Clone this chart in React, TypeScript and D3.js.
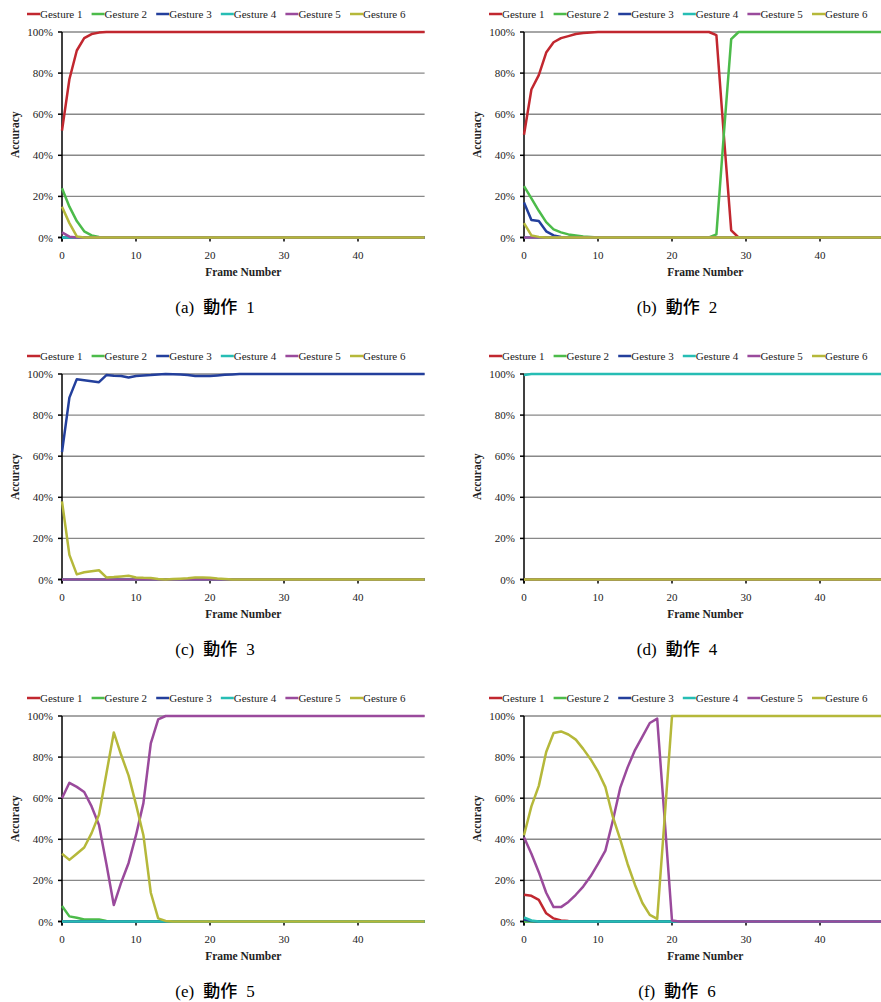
import React from "react";
import * as d3 from "d3";

// legend names + colours
const gestureNames = ["Gesture 1", "Gesture 2", "Gesture 3", "Gesture 4", "Gesture 5", "Gesture 6"];
const gestureColors = ["#c1272f", "#4cbb4a", "#233f9c", "#26bdb4", "#9a4a9c", "#b5b83a"];

const yTicks = [0, 20, 40, 60, 80, 100];
const xTicks = [0, 10, 20, 30, 40];
const frameCount = 50; // frames 0..49

const zeros = [
	0, 0, 0, 0, 0, 0, 0, 0, 0, 0, 0, 0, 0, 0, 0, 0, 0, 0, 0, 0, 0, 0, 0, 0, 0,
	0, 0, 0, 0, 0, 0, 0, 0, 0, 0, 0, 0, 0, 0, 0, 0, 0, 0, 0, 0, 0, 0, 0, 0, 0,
];

// (a) 動作 1
const a_g1 = [
	52, 77, 91, 97, 99, 99.7, 100, 100, 100, 100, 100, 100, 100, 100, 100, 100, 100, 100, 100, 100, 100, 100, 100, 100, 100,
	100, 100, 100, 100, 100, 100, 100, 100, 100, 100, 100, 100, 100, 100, 100, 100, 100, 100, 100, 100, 100, 100, 100, 100, 100,
];
const a_g2 = [
	24, 15, 8, 3, 1, 0.3, 0, 0, 0, 0, 0, 0, 0, 0, 0, 0, 0, 0, 0, 0, 0, 0, 0, 0, 0,
	0, 0, 0, 0, 0, 0, 0, 0, 0, 0, 0, 0, 0, 0, 0, 0, 0, 0, 0, 0, 0, 0, 0, 0, 0,
];
const a_g5 = [
	2.5, 0.4, 0, 0, 0, 0, 0, 0, 0, 0, 0, 0, 0, 0, 0, 0, 0, 0, 0, 0, 0, 0, 0, 0, 0,
	0, 0, 0, 0, 0, 0, 0, 0, 0, 0, 0, 0, 0, 0, 0, 0, 0, 0, 0, 0, 0, 0, 0, 0, 0,
];
const a_g6 = [
	15, 7, 0.5, 0, 0, 0, 0, 0, 0, 0, 0, 0, 0, 0, 0, 0, 0, 0, 0, 0, 0, 0, 0, 0, 0,
	0, 0, 0, 0, 0, 0, 0, 0, 0, 0, 0, 0, 0, 0, 0, 0, 0, 0, 0, 0, 0, 0, 0, 0, 0,
];

// (b) 動作 2
const b_g1 = [
	50, 72, 79, 90, 95, 97, 98, 99, 99.5, 99.8, 100, 100, 100, 100, 100, 100, 100, 100, 100, 100, 100, 100, 100, 100, 100,
	100, 98.5, 50, 3.5, 0, 0, 0, 0, 0, 0, 0, 0, 0, 0, 0, 0, 0, 0, 0, 0, 0, 0, 0, 0, 0,
];
const b_g2 = [
	25, 19, 13, 7.5, 4, 2.5, 1.5, 1, 0.5, 0.3, 0, 0, 0, 0, 0, 0, 0, 0, 0, 0, 0, 0, 0, 0, 0,
	0, 1.5, 50, 96.5, 100, 100, 100, 100, 100, 100, 100, 100, 100, 100, 100, 100, 100, 100, 100, 100, 100, 100, 100, 100, 100,
];
const b_g3 = [
	17, 8.5, 8, 3, 1, 0.3, 0, 0, 0, 0, 0, 0, 0, 0, 0, 0, 0, 0, 0, 0, 0, 0, 0, 0, 0,
	0, 0, 0, 0, 0, 0, 0, 0, 0, 0, 0, 0, 0, 0, 0, 0, 0, 0, 0, 0, 0, 0, 0, 0, 0,
];
const b_g6 = [
	7, 1, 0.3, 0, 0, 0, 0, 0, 0, 0, 0, 0, 0, 0, 0, 0, 0, 0, 0, 0, 0, 0, 0, 0, 0,
	0, 0, 0, 0, 0, 0, 0, 0, 0, 0, 0, 0, 0, 0, 0, 0, 0, 0, 0, 0, 0, 0, 0, 0, 0,
];

// (c) 動作 3
const c_g3 = [
	62, 88.5, 97.5, 97, 96.5, 96, 99.5, 99.2, 99, 98.3, 99, 99.3, 99.5, 99.8, 100, 99.9, 99.7, 99.5, 99, 99, 99, 99.3, 99.6, 99.8, 100,
	100, 100, 100, 100, 100, 100, 100, 100, 100, 100, 100, 100, 100, 100, 100, 100, 100, 100, 100, 100, 100, 100, 100, 100, 100,
];
const c_g6 = [
	38, 12, 2.5, 3.5, 4, 4.5, 1, 1.2, 1.5, 1.8, 1, 0.8, 0.7, 0.3, 0, 0.2, 0.4, 0.6, 1, 1, 0.8, 0.5, 0.3, 0, 0,
	0, 0, 0, 0, 0, 0, 0, 0, 0, 0, 0, 0, 0, 0, 0, 0, 0, 0, 0, 0, 0, 0, 0, 0, 0,
];

// (d) 動作 4
const d_g4 = [
	99.5, 100, 100, 100, 100, 100, 100, 100, 100, 100, 100, 100, 100, 100, 100, 100, 100, 100, 100, 100, 100, 100, 100, 100, 100,
	100, 100, 100, 100, 100, 100, 100, 100, 100, 100, 100, 100, 100, 100, 100, 100, 100, 100, 100, 100, 100, 100, 100, 100, 100,
];

// (e) 動作 5
const e_g2 = [
	7.5, 2.5, 1.8, 1, 1, 1, 0.2, 0, 0, 0, 0, 0, 0, 0, 0, 0, 0, 0, 0, 0, 0, 0, 0, 0, 0,
	0, 0, 0, 0, 0, 0, 0, 0, 0, 0, 0, 0, 0, 0, 0, 0, 0, 0, 0, 0, 0, 0, 0, 0, 0,
];
const e_g5 = [
	60, 67.5, 65.5, 63, 56, 47, 28, 8, 19, 28.5, 42, 57.6, 86.7, 98.3, 100, 100, 100, 100, 100, 100, 100, 100, 100, 100, 100,
	100, 100, 100, 100, 100, 100, 100, 100, 100, 100, 100, 100, 100, 100, 100, 100, 100, 100, 100, 100, 100, 100, 100, 100, 100,
];
const e_g6 = [
	33, 30, 33, 36, 43, 52, 72, 92, 81, 71, 57, 42, 14, 1.5, 0.3, 0, 0, 0, 0, 0, 0, 0, 0, 0, 0,
	0, 0, 0, 0, 0, 0, 0, 0, 0, 0, 0, 0, 0, 0, 0, 0, 0, 0, 0, 0, 0, 0, 0, 0, 0,
];

// (f) 動作 6
const f_g1 = [
	13, 12.5, 10.5, 4, 1.5, 0.5, 0.2, 0, 0, 0, 0, 0, 0, 0, 0, 0, 0, 0, 0, 0, 0, 0, 0, 0, 0,
	0, 0, 0, 0, 0, 0, 0, 0, 0, 0, 0, 0, 0, 0, 0, 0, 0, 0, 0, 0, 0, 0, 0, 0, 0,
];
const f_g3 = [
	1, 0.2, 0, 0, 0, 0, 0, 0, 0, 0, 0, 0, 0, 0, 0, 0, 0, 0, 0, 0, 0, 0, 0, 0, 0,
	0, 0, 0, 0, 0, 0, 0, 0, 0, 0, 0, 0, 0, 0, 0, 0, 0, 0, 0, 0, 0, 0, 0, 0, 0,
];
const f_g4 = [
	2, 0.5, 0, 0, 0, 0, 0, 0, 0, 0, 0, 0, 0, 0, 0, 0, 0, 0, 0, 0, 0, 0, 0, 0, 0,
	0, 0, 0, 0, 0, 0, 0, 0, 0, 0, 0, 0, 0, 0, 0, 0, 0, 0, 0, 0, 0, 0, 0, 0, 0,
];
const f_g5 = [
	41, 33, 24, 14, 7, 7, 9.5, 13, 17, 22, 28, 34.5, 49, 65, 75, 83.4, 90, 96.6, 98.7, 50, 0.5, 0, 0, 0, 0,
	0, 0, 0, 0, 0, 0, 0, 0, 0, 0, 0, 0, 0, 0, 0, 0, 0, 0, 0, 0, 0, 0, 0, 0, 0,
];
const f_g6 = [
	42, 56, 66, 82.5, 91.7, 92.5, 91, 88.5, 84, 79, 73, 65.4, 51, 40, 28, 17.8, 9, 3.2, 1.3, 50, 100, 100, 100, 100, 100,
	100, 100, 100, 100, 100, 100, 100, 100, 100, 100, 100, 100, 100, 100, 100, 100, 100, 100, 100, 100, 100, 100, 100, 100, 100,
];

const captionLetters = ["a", "b", "c", "d", "e", "f"];
const captionNumbers = ["1", "2", "3", "4", "5", "6"];
const panelSeries = [
	[a_g1, a_g2, zeros, zeros, a_g5, a_g6],
	[b_g1, b_g2, b_g3, zeros, zeros, b_g6],
	[zeros, zeros, c_g3, zeros, zeros, c_g6],
	[zeros, zeros, zeros, d_g4, zeros, zeros],
	[zeros, e_g2, zeros, zeros, e_g5, e_g6],
	[f_g1, zeros, f_g3, f_g4, f_g5, f_g6],
];

const W = 881;
const H = 1002;
const colX = [62, 524];
const rowY = [32, 374, 716];
const plotW = 362.6;
const plotH = 205.5;
const captionX = [215, 677];
const serif = "'Liberation Serif', 'Times New Roman', serif";

const Panel = ({ idx }: { idx: number }) => {
	const x0 = colX[idx % 2];
	const y0 = rowY[Math.floor(idx / 2)];
	const x = d3.scaleLinear().domain([0, frameCount - 1]).range([x0, x0 + plotW]);
	const y = d3.scaleLinear().domain([0, 100]).range([y0 + plotH, y0]);
	const line = d3
		.line<number>()
		.x((_, i) => x(i))
		.y((d) => y(d));
	const bottom = y(0);

	return (
		<g>
			{/* legend */}
			{gestureNames.map((name, i) => {
				const lx = x0 - 35 + i * 64.6;
				const ly = y0 - 18;
				return (
					<g key={name}>
						<line x1={lx} x2={lx + 13} y1={ly} y2={ly} stroke={gestureColors[i]} strokeWidth={2.5} />
						<text x={lx + 13} y={ly + 4} fontSize={11} fontFamily={serif} fill="#222">
							{name}
						</text>
					</g>
				);
			})}

			{/* gridlines */}
			{yTicks.slice(1).map((t) => (
				<line key={t} x1={x0} x2={x0 + plotW} y1={y(t)} y2={y(t)} stroke="#888" strokeWidth={1.4} />
			))}

			{/* axes (under the series) */}
			<line x1={x0} x2={x0} y1={y0} y2={bottom + 4} stroke="#000" strokeWidth={1.5} />
			<line x1={x0 - 4} x2={x0 + plotW} y1={bottom} y2={bottom} stroke="#000" strokeWidth={1.5} />
			{yTicks.map((t) => (
				<g key={t}>
					<line x1={x0 - 4} x2={x0} y1={y(t)} y2={y(t)} stroke="#000" strokeWidth={1.5} />
					<text x={x0 - 9} y={y(t) + 4} textAnchor="end" fontSize={11} fontFamily={serif} fill="#222">
						{t}%
					</text>
				</g>
			))}
			{xTicks.map((t) => (
				<g key={t}>
					<line x1={x(t)} x2={x(t)} y1={bottom} y2={bottom + 4} stroke="#000" strokeWidth={1.5} />
					<text x={x(t)} y={bottom + 21} textAnchor="middle" fontSize={11} fontFamily={serif} fill="#222">
						{t}
					</text>
				</g>
			))}

			{/* series */}
			{panelSeries[idx].map((vals, i) => (
				<path
					key={i}
					d={line(vals) || ""}
					fill="none"
					stroke={gestureColors[i]}
					strokeWidth={2.5}
					strokeLinejoin="round"
				/>
			))}

			<text
				x={x0 + plotW / 2}
				y={bottom + 38.5}
				textAnchor="middle"
				fontSize={11.5}
				fontWeight="bold"
				fontFamily={serif}
				fill="#222">
				Frame Number
			</text>
			<text
				transform={`translate(${x0 - 43},${y0 + plotH / 2}) rotate(-90)`}
				textAnchor="middle"
				fontSize={11.5}
				fontWeight="bold"
				fontFamily={serif}
				fill="#222">
				Accuracy
			</text>

			{/* caption */}
			<text x={captionX[idx % 2]} y={y0 + 281} textAnchor="middle" fontSize={17} fontFamily={serif} fill="#000">
				<tspan>({captionLetters[idx]})</tspan>
				<tspan dx={9} fontFamily="'Noto Sans CJK JP', sans-serif" fontWeight={500}>
					動作
				</tspan>
				<tspan dx={9}>{captionNumbers[idx]}</tspan>
			</text>
		</g>
	);
};

const App = () => {
	return (
		<svg
			width={W}
			height={H}
			style={{ position: "absolute", left: 0, top: 0, background: "#fff" }}>
			{panelSeries.map((_, i) => (
				<Panel key={i} idx={i} />
			))}
		</svg>
	);
};

export default App;
